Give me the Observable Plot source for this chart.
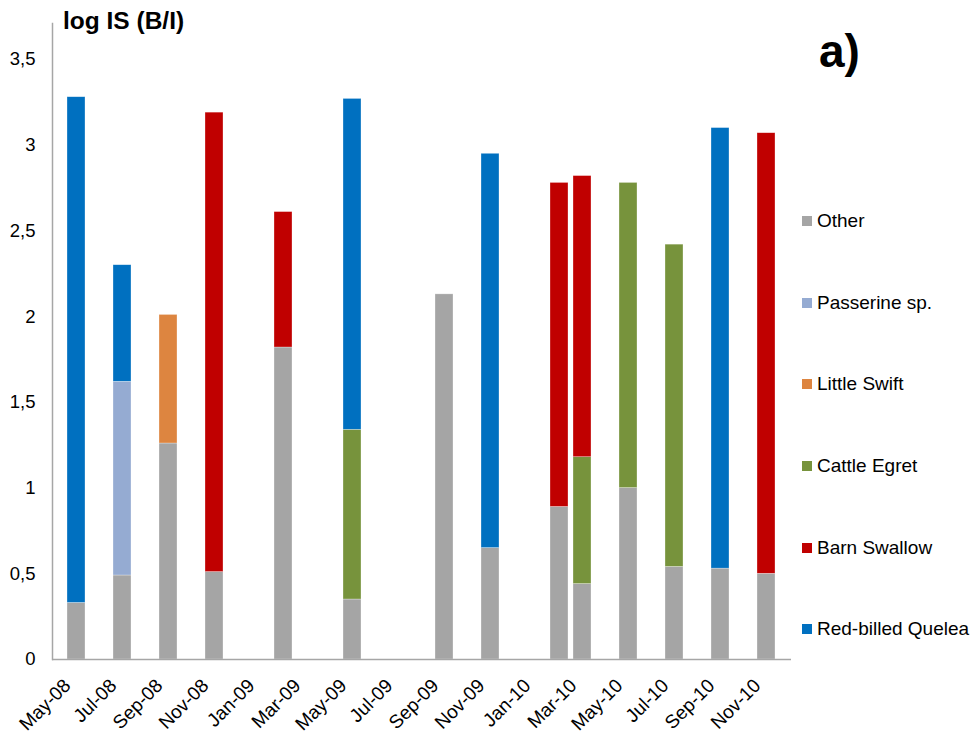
<!DOCTYPE html>
<html>
<head>
<meta charset="utf-8">
<script src="https://cdn.jsdelivr.net/npm/d3@7"></script>
<script src="https://cdn.jsdelivr.net/npm/@observablehq/plot@0.6"></script>
<style>
  body { margin: 0; background: #fff; font-family: "Liberation Sans", Arial, sans-serif; }
  #wrap { position: relative; width: 977px; height: 739px; }
  #title { position: absolute; left: 63px; top: 7px; font-size: 24.5px; font-weight: bold; color: #000; }
  #panel { position: absolute; left: 819px; top: 24px; font-size: 46px; font-weight: bold; color: #000; }
  .leg { position: absolute; left: 802px; font-size: 19px; color: #000; display: flex; align-items: center; white-space: nowrap; }
  .leg span.sw { display: inline-block; width: 10px; height: 10px; margin-right: 5px; }
</style>
</head>
<body>
<div id="wrap"></div>
<script>
// axis months (monthly date axis, May-08 .. Nov-10)
const axisMonths = ["May-08","Jun-08","Jul-08","Aug-08","Sep-08","Oct-08","Nov-08","Dec-08",
  "Jan-09","Feb-09","Mar-09","Apr-09","May-09","Jun-09","Jul-09","Aug-09","Sep-09","Oct-09","Nov-09","Dec-09",
  "Jan-10","Feb-10","Mar-10","Apr-10","May-10","Jun-10","Jul-10","Aug-10","Sep-10","Oct-10","Nov-10"];
const tickMonths = ["May-08","Jul-08","Sep-08","Nov-08","Jan-09","Mar-09","May-09","Jul-09","Sep-09","Nov-09",
  "Jan-10","Mar-10","May-10","Jul-10","Sep-10","Nov-10"];
// sampled months
const sampleMonths = ["May-08","Jul-08","Sep-08","Nov-08","Feb-09","May-09","Sep-09","Nov-09","Feb-10","Mar-10","May-10","Jul-10","Sep-10","Nov-10"];
const species = ["Other","Passerine sp.","Little Swift","Cattle Egret","Barn Swallow","Red-billed Quelea"];
const speciesColors = ["#a5a5a5","#95abd2","#dd8540","#77933c","#c00000","#0070c0"];
// segment values (log IS, B/I)
const other      = [0.33,0.49,1.26,0.51,1.82,0.35,2.13,0.65,0.89,0.44,1.00,0.54,0.53,0.50];
const passerine  = [0,   1.13,0,   0,   0,   0,   0,   0,   0,   0,   0,   0,   0,   0   ];
const littleSwift= [0,   0,   0.75,0,   0,   0,   0,   0,   0,   0,   0,   0,   0,   0   ];
const cattleEgret= [0,   0,   0,   0,   0,   0.99,0,   0,   0,   0.74,1.78,1.88,0,   0   ];
const barnSwallow= [0,   0,   0,   2.68,0.79,0,   0,   0,   1.89,1.64,0,   0,   0,   2.57];
const quelea     = [2.95,0.68,0,   0,   0,   1.93,0,   2.30,0,   0,   0,   0,   2.57,0   ];
const yTicks = [0,0.5,1,1.5,2,2.5,3,3.5];

const series = [other, passerine, littleSwift, cattleEgret, barnSwallow, quelea];
const rows = [];
species.forEach((s, si) => {
  sampleMonths.forEach((m, mi) => {
    if (series[si][mi] > 0) rows.push({month: m, species: s, value: series[si][mi]});
  });
});

const axisColor = "#a6a6a6";
const chart = Plot.plot({
  width: 977,
  height: 739,
  marginLeft: 52,
  marginRight: 186,
  marginTop: 23,
  marginBottom: 80,
  style: {fontFamily: "'Liberation Sans', Arial, sans-serif", fontSize: "18px", color: "#000", background: "#fff"},
  x: {type: "band", domain: axisMonths, paddingInner: 0.2, paddingOuter: 0.1, label: null},
  y: {domain: [0, 3.71], label: null},
  color: {domain: species, range: speciesColors},
  marks: [
    Plot.barY(rows, {x: "month", y: "value", fill: "species", order: species, stroke: "#fff", strokeOpacity: 0.5, strokeWidth: 0.6}),
    Plot.axisY({ticks: yTicks, tickSize: 0, tickPadding: 17, tickFormat: d => String(d).replace(".", ","), label: null, fill: "#000", fontSize: 18.5}),
    Plot.axisX({ticks: tickMonths, tickSize: 0, tickPadding: 10, tickRotate: -45, dx: -9, dy: 13, label: null, fill: "#000", fontSize: 19}),
    Plot.frame({anchor: "left", stroke: axisColor, strokeWidth: 1.5}),
    Plot.ruleY([0], {stroke: axisColor, strokeWidth: 1.5})
  ]
});

const wrap = document.getElementById("wrap");
wrap.appendChild(chart);

const title = document.createElement("div");
title.id = "title"; title.textContent = "log IS (B/I)";
wrap.appendChild(title);
const panel = document.createElement("div");
panel.id = "panel"; panel.textContent = "a)";
wrap.appendChild(panel);

const legendY = [221, 303, 384, 466, 548, 629];
species.forEach((s, i) => {
  const d = document.createElement("div");
  d.className = "leg";
  d.style.top = (legendY[i] - 11) + "px";
  d.style.height = "22px";
  const sw = document.createElement("span");
  sw.className = "sw"; sw.style.background = speciesColors[i];
  const t = document.createElement("span");
  t.textContent = s;
  d.appendChild(sw); d.appendChild(t);
  wrap.appendChild(d);
});
</script>
</body>
</html>
